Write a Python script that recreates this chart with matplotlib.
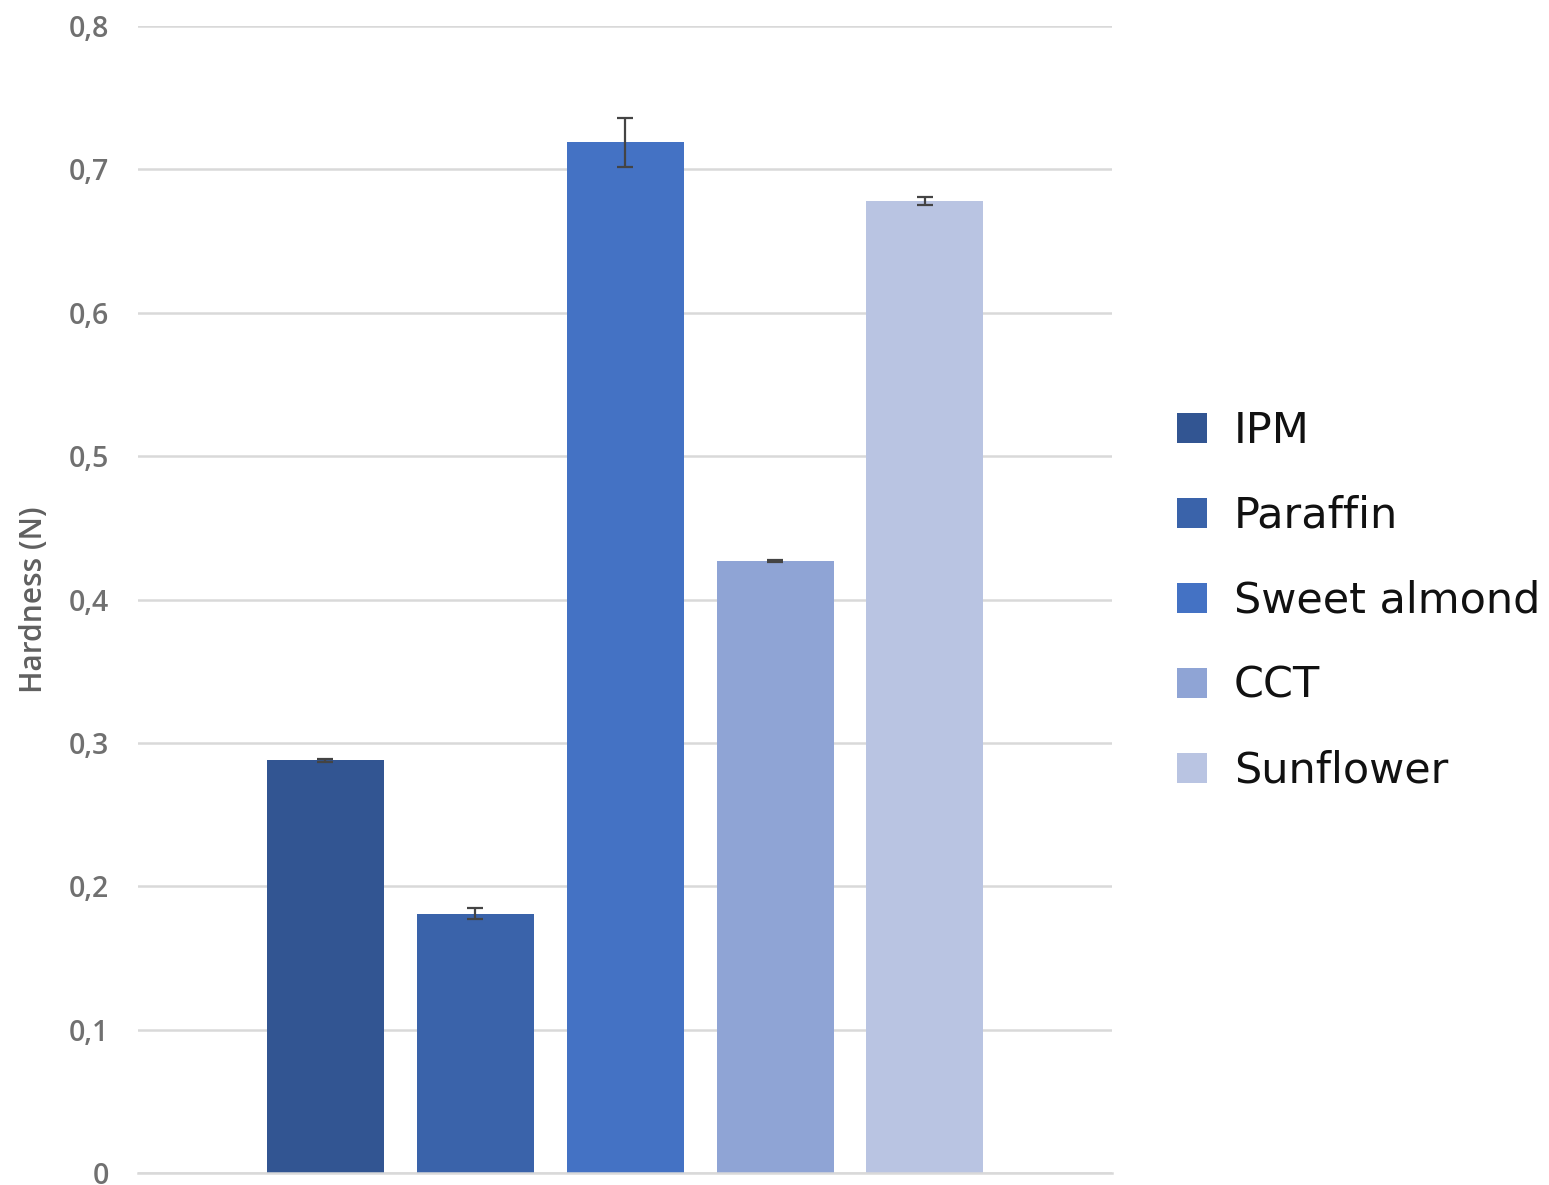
import matplotlib
matplotlib.use("Agg")
import matplotlib.pyplot as plt
from matplotlib.patches import Patch
from matplotlib.ticker import FuncFormatter

series = ["IPM", "Paraffin", "Sweet almond", "CCT", "Sunflower"]
hardness = [0.288, 0.181, 0.719, 0.427, 0.678]
errors = [0.001, 0.004, 0.017, 0.0006, 0.003]
colors = ["#325592", "#3a63aa", "#4472c4", "#8fa4d5", "#b9c4e2"]
yticks = [0, 0.1, 0.2, 0.3, 0.4, 0.5, 0.6, 0.7, 0.8]

fig = plt.figure(figsize=(15.49, 11.85), dpi=100)
ax = fig.add_axes([0.0891, 0.0101, 0.6288, 0.9679])

x = list(range(len(series)))
ax.bar(x, hardness, width=0.78, color=colors, zorder=2)
ax.errorbar(x, hardness, yerr=errors, fmt="none", ecolor="#444444",
            elinewidth=1.6, capsize=5.5, capthick=1.6, zorder=3)

ax.set_xlim(-1.247, 5.247)
ax.set_ylim(0, 0.8)
ax.set_yticks(yticks)
ax.yaxis.set_major_formatter(FuncFormatter(
    lambda v, p: "0" if abs(v) < 1e-9 else f"{v:.1f}".replace(".", ",")))
ax.set_xticks([])
ax.grid(axis="y", color="#d9d9d9", linewidth=1.8, zorder=0)
for s in ["top", "right", "left"]:
    ax.spines[s].set_visible(False)
ax.spines["bottom"].set_color("#d9d9d9")
ax.spines["bottom"].set_linewidth(1.8)
ax.tick_params(axis="y", length=0, pad=21, labelsize=20.5, labelcolor="#707070")
for lab in ax.get_yticklabels():
    lab.set_family("Open Sans")
    lab.set_fontweight("semibold")
ax.set_ylabel("Hardness (N)", fontsize=21.5, color="#606060", family="Open Sans",
              fontweight="semibold", labelpad=14)

handles = [Patch(facecolor=c, edgecolor="none", label=s) for c, s in zip(colors, series)]
leg = fig.legend(handles=handles, loc="upper left", bbox_to_anchor=(0.735, 0.687),
                 frameon=False, prop={"family": "DejaVu Sans", "size": 31},
                 handlelength=0.7, handleheight=0.7, handletextpad=0.62,
                 labelspacing=1.0, labelcolor="#111111")

fig.savefig("out.png", dpi=100, facecolor="white")
